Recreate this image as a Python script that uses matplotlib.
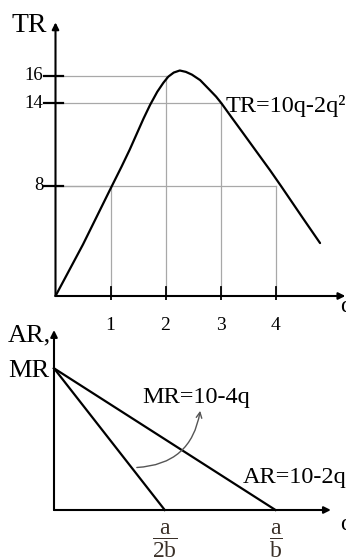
import matplotlib
matplotlib.use("Agg")
import matplotlib.pyplot as plt

plt.rcParams["font.family"] = ["Liberation Serif", "DejaVu Serif"]
plt.rcParams["mathtext.fontset"] = "custom"
plt.rcParams["mathtext.rm"] = "Liberation Serif"
plt.rcParams["mathtext.it"] = "Liberation Serif"

# ---- data ----
# TR curve (hand drawn in the original, not exactly 10q-2q^2)
tr_q = [0, 0.5, 1.0, 1.2, 1.35, 1.5, 1.6, 1.72, 1.85, 1.96, 2.05, 2.15,
        2.26, 2.37, 2.48, 2.63, 2.8, 2.92, 3.02, 3.2, 3.41, 3.7, 3.9, 4.1,
        4.5, 4.81]
tr_v = [0, 3.75, 7.8, 9.4, 10.65, 12.0, 12.9, 13.9, 14.85, 15.5, 15.95, 16.25,
        16.4, 16.3, 16.1, 15.7, 15.0, 14.5, 14.0, 13.0, 11.85, 10.25, 9.15, 8.0,
        5.65, 3.85]

# guide lines: (q, TR)
guide_q = [1, 2, 3, 4]
guide_tr = [8, 16, 14, 8]
ytick_vals = [16, 14, 8]
xtick_labels = ["1", "2", "3", "4"]

# AR / MR lines
demand_q0 = 0
demand_p0 = 10
mr_qend = 2.5
ar_qend = 5.0

fig = plt.figure(figsize=(3.46, 5.59), dpi=100)
W, H = 346, 559

# ---- top panel: TR ----
ax1 = fig.add_axes([0, (H - 300) / H, 1, 300 / H])
ax1.set_xlim(-55.5 / 55, (W - 55.5) / 55)
ax1.set_ylim((296 - 300) / 13.75, 296 / 13.75)
ax1.axis("off")

ax1.plot(tr_q, tr_v, color="black", lw=1.6, solid_capstyle="round",
         solid_joinstyle="round")
for q, v in zip(guide_q, guide_tr):
    ax1.plot([q, q], [0, v], color="#a8a8a8", lw=0.9, zorder=1)
    ax1.plot([0, q], [v, v], color="#a8a8a8", lw=0.9, zorder=1)
    ax1.plot([q, q], [-0.65, 0.65], color="black", lw=1.3)
for v in ytick_vals:
    ax1.plot([-0.21, 0.14], [v, v], color="black", lw=1.6)
    ax1.text(-0.22, v, str(v), ha="right", va="center", fontsize=13.5)
for q, lab in zip(guide_q, xtick_labels):
    ax1.text(q, -2.15, lab, ha="center", va="center", fontsize=14, clip_on=False)

ax1.annotate("", xy=(0, 19.9), xytext=(0, 0),
             arrowprops=dict(arrowstyle="-|>", color="black", lw=1.5,
                             mutation_scale=10, shrinkA=0, shrinkB=0))
ax1.annotate("", xy=(5.27, 0), xytext=(0, 0),
             arrowprops=dict(arrowstyle="-|>", color="black", lw=1.5,
                             mutation_scale=10, shrinkA=0, shrinkB=0))
ax1.text(-0.47, 19.2, "TR", ha="center", va="baseline", fontsize=20)
ax1.text(3.1, 13.4, "TR=10q-2q²", ha="left", va="baseline", fontsize=17.5)
ax1.text(5.17, -0.75, "q", ha="left", va="center", fontsize=17, clip_on=False)

# ---- bottom panel: AR, MR ----
ax2 = fig.add_axes([0, 0, 1, (H - 300) / H])
ax2.set_xlim(-54 / 44.3, (W - 54) / 44.3)
ax2.set_ylim(-(559 - 510) / 14.17, (510 - 300) / 14.17)
ax2.axis("off")

ax2.plot([demand_q0, mr_qend], [demand_p0, 0], color="black", lw=1.6)
ax2.plot([demand_q0, ar_qend], [demand_p0, 0], color="black", lw=1.6)
ax2.annotate("", xy=(0, 12.7), xytext=(0, 0),
             arrowprops=dict(arrowstyle="-|>", color="black", lw=1.5,
                             mutation_scale=10, shrinkA=0, shrinkB=0))
ax2.annotate("", xy=(6.25, 0), xytext=(0, 0),
             arrowprops=dict(arrowstyle="-|>", color="black", lw=1.5,
                             mutation_scale=10, shrinkA=0, shrinkB=0))
ax2.annotate("", xy=(3.3, 7.0), xytext=(1.87, 3.0),
             arrowprops=dict(arrowstyle="->", color="#555555", lw=1.0,
                             connectionstyle="arc3,rad=0.4",
                             shrinkA=0, shrinkB=0))

ax2.text(-0.56, 11.86, "AR,", ha="center", va="baseline", fontsize=19)
ax2.text(-0.56, 9.39, "MR", ha="center", va="baseline", fontsize=19)
ax2.text(2.0, 7.55, "MR=10-4q", ha="left", va="baseline", fontsize=17.5)
ax2.text(4.27, 1.9, "AR=10-2q", ha="left", va="baseline", fontsize=17.5)
ax2.text(mr_qend, -2.2, r"$\dfrac{a}{2b}$", ha="center", va="center",
         fontsize=17, color="#3a3028")
ax2.text(ar_qend, -2.2, r"$\dfrac{a}{b}$", ha="center", va="center",
         fontsize=17, color="#3a3028")
ax2.text(6.45, -1.0, "q", ha="left", va="center", fontsize=17)

fig.savefig("out.png", dpi=100)
